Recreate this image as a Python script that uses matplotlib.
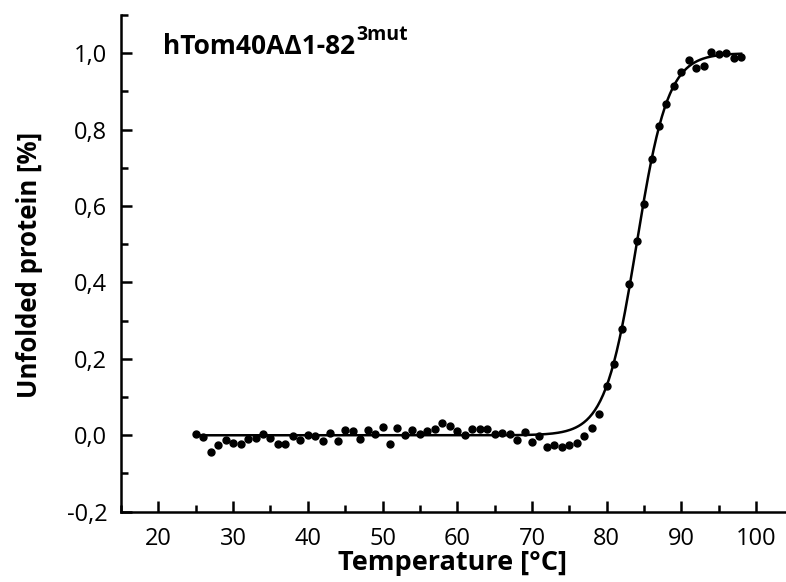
import numpy as np
import matplotlib
matplotlib.use("Agg")
import matplotlib.pyplot as plt
from matplotlib.ticker import MultipleLocator, FuncFormatter

plt.rcParams['font.family'] = ['Open Sans', 'DejaVu Sans']

# measured points (temperature in degC, unfolded fraction)
temperature = np.arange(25, 99)
unfolded = [
    0.003, -0.004, -0.044, -0.026, -0.013, -0.019, -0.024, -0.009, -0.006, 0.003,
    -0.007, -0.022, -0.022, -0.002, -0.013, 0.000, -0.002, -0.016, 0.007, -0.016,
    0.013, 0.010, -0.010, 0.013, 0.004, 0.022, -0.022, 0.019, 0.002, 0.015,
    0.003, 0.010, 0.016, 0.032, 0.024, 0.010, 0.000, 0.017, 0.017, 0.017,
    0.003, 0.006, 0.004, -0.013, 0.009, -0.017, -0.002, -0.030, -0.026, -0.031,
    -0.025, -0.021, -0.001, 0.020, 0.056, 0.130, 0.187, 0.277, 0.395, 0.508,
    0.606, 0.722, 0.809, 0.867, 0.914, 0.950, 0.982, 0.961, 0.967, 1.003,
    0.998, 1.001, 0.987, 0.991,
]

# Boltzmann fit parameters
fit_tm = 84.0
fit_dt = 2.1
fit_range = (25, 98)

title_main = "hTom40A\u03941-82"
title_sup = "3mut"

fig = plt.figure(figsize=(7.86, 5.82), dpi=100)
ax = fig.add_axes([0.154, 0.1208, 0.846, 0.8534])

t_fit = np.linspace(fit_range[0], fit_range[1], 400)
y_fit = 1.0 / (1.0 + np.exp((fit_tm - t_fit) / fit_dt))
ax.plot(t_fit, y_fit, color='black', lw=1.8)
ax.plot(temperature, unfolded, 'o', color='black', ms=5, mec='black')

ax.set_xlim(15, 104)
ax.set_ylim(-0.2, 1.1)
ax.xaxis.set_major_locator(MultipleLocator(10))
ax.xaxis.set_minor_locator(MultipleLocator(5))
ax.yaxis.set_major_locator(MultipleLocator(0.2))
ax.yaxis.set_minor_locator(MultipleLocator(0.1))
ax.yaxis.set_major_formatter(FuncFormatter(lambda v, p: f"{v:.1f}".replace('.', ',').replace('\u2212', '-')))
ax.xaxis.set_major_formatter(FuncFormatter(lambda v, p: f"{v:.0f}"))

for s in ['top', 'right']:
    ax.spines[s].set_visible(False)
for s in ['left', 'bottom']:
    ax.spines[s].set_linewidth(1.8)

ax.tick_params(which='major', direction='in', length=8, width=1.8, labelsize=17)
ax.tick_params(axis='y', which='major', pad=10)
ax.tick_params(axis='x', which='major', pad=11)
ax.tick_params(which='minor', direction='in', length=5, width=1.8)

ax.set_xlabel("Temperature [\u00b0C]", fontsize=19.5, fontweight='bold', va='center')
ax.set_ylabel("Unfolded protein [%]", fontsize=18.5, fontweight='bold', va='center')
ax.xaxis.set_label_coords(0.498, -0.103)
ax.yaxis.set_label_coords(-0.137, 0.497)

# title with superscript
t = fig.text(163 / 786, 1 - 47 / 582, title_main, fontsize=19, fontweight='bold', va='center', ha='left')
fig.canvas.draw()
bb = t.get_window_extent()
fig.text(bb.x1 / fig.bbox.width + 0.001, (bb.y0 + 0.58 * bb.height) / fig.bbox.height, title_sup,
         fontsize=14, fontweight='bold', va='bottom', ha='left')

fig.savefig("out.png", dpi=100)
